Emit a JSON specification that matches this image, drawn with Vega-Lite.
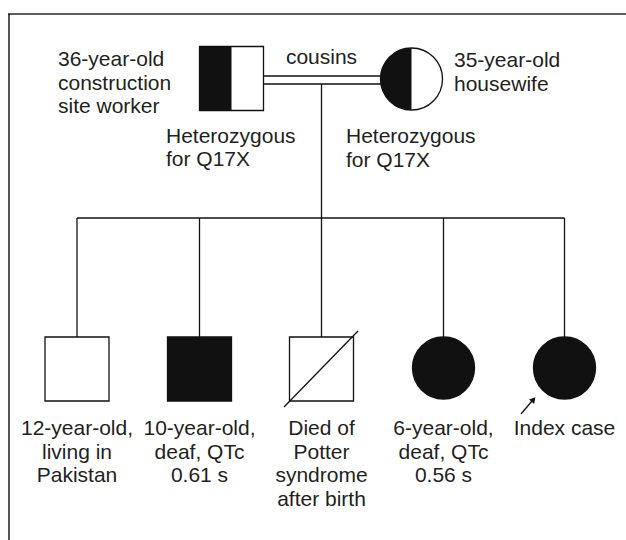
{
  "$schema": "https://vega.github.io/schema/vega-lite/v6.json",
  "width": 626,
  "height": 540,
  "padding": 0,
  "autosize": {"type": "none"},
  "background": "white",
  "config": {"view": {"stroke": null}},
  "datasets": {
    "people": [
      {"id": "father", "x": 231.5, "y": 78.5, "sex": "male", "status": "carrier"},
      {"id": "mother", "x": 411.5, "y": 79, "sex": "female", "status": "carrier"},
      {"id": "child1", "x": 77, "y": 369, "sex": "male", "status": "unaffected"},
      {"id": "child2", "x": 199.5, "y": 369, "sex": "male", "status": "affected"},
      {"id": "child3", "x": 321.5, "y": 369, "sex": "male", "status": "deceased"},
      {"id": "child4", "x": 443.5, "y": 368, "sex": "female", "status": "affected"},
      {"id": "child5", "x": 564.5, "y": 368, "sex": "female", "status": "affected"}
    ],
    "lines": [
      {"part": "marriage", "x": 263, "y": 76, "x2": 395, "y2": 76},
      {"part": "marriage", "x": 263, "y": 84, "x2": 395, "y2": 84},
      {"part": "descent", "x": 321.5, "y": 84, "x2": 321.5, "y2": 218},
      {"part": "sibship", "x": 77, "y": 218, "x2": 564.5, "y2": 218},
      {"part": "child1", "x": 77, "y": 218, "x2": 77, "y2": 337},
      {"part": "child2", "x": 199.5, "y": 218, "x2": 199.5, "y2": 337},
      {"part": "child3", "x": 321.5, "y": 218, "x2": 321.5, "y2": 337},
      {"part": "child4", "x": 443.5, "y": 218, "x2": 443.5, "y2": 337},
      {"part": "child5", "x": 564.5, "y": 218, "x2": 564.5, "y2": 337},
      {"part": "deceased", "x": 284, "y": 407, "x2": 358, "y2": 331},
      {"part": "arrow", "x": 521, "y": 414, "x2": 532, "y2": 401}
    ],
    "frame": [
      {"side": "top", "x": 8, "y": 14, "x2": 626, "y2": 14},
      {"side": "left", "x": 9, "y": 14, "x2": 9, "y2": 540}
    ],
    "arrowhead": [
      {"x": 533.5, "y": 399.5}
    ],
    "labels": [
      {"text": "36-year-old\nconstruction\nsite worker", "x": 58, "y": 66, "anchor": "left"},
      {"text": "35-year-old\nhousewife", "x": 454, "y": 67, "anchor": "left"},
      {"text": "Heterozygous\nfor Q17X", "x": 166, "y": 142.5, "anchor": "left"},
      {"text": "Heterozygous\nfor Q17X", "x": 346, "y": 143, "anchor": "left"},
      {"text": "cousins", "x": 321.5, "y": 64, "anchor": "center"},
      {"text": "12-year-old,\nliving in\nPakistan", "x": 77, "y": 435, "anchor": "center"},
      {"text": "10-year-old,\ndeaf, QTc\n0.61 s", "x": 199.5, "y": 435, "anchor": "center"},
      {"text": "Died of\nPotter\nsyndrome\nafter birth", "x": 321.5, "y": 435, "anchor": "center"},
      {"text": "6-year-old,\ndeaf, QTc\n0.56 s", "x": 443.5, "y": 435, "anchor": "center"},
      {"text": "Index case", "x": 564.5, "y": 435, "anchor": "center"}
    ]
  },
  "layer": [
    {
      "data": {"name": "frame"},
      "transform": [{"filter": "datum.side === 'top'"}],
      "mark": {"type": "rule", "color": "#5c5c5c", "strokeWidth": 2},
      "encoding": {
        "x": {"field": "x", "type": "quantitative", "scale": {"domain": [0, 626], "nice": false, "zero": false}, "axis": null},
        "y": {"field": "y", "type": "quantitative", "scale": {"domain": [0, 540], "nice": false, "zero": false, "reverse": true}, "axis": null},
        "x2": {"field": "x2"},
        "y2": {"field": "y2"}
      }
    },
    {
      "data": {"name": "frame"},
      "transform": [{"filter": "datum.side === 'left'"}],
      "mark": {"type": "rule", "color": "#1a1a1a", "strokeWidth": 1.5},
      "encoding": {
        "x": {"field": "x", "type": "quantitative", "axis": null},
        "y": {"field": "y", "type": "quantitative", "axis": null},
        "x2": {"field": "x2"},
        "y2": {"field": "y2"}
      }
    },
    {
      "data": {"name": "lines"},
      "transform": [{"filter": "datum.part !== 'deceased' && datum.part !== 'arrow'"}],
      "mark": {"type": "rule", "color": "#111111", "strokeWidth": 1.3},
      "encoding": {
        "x": {"field": "x", "type": "quantitative", "axis": null},
        "y": {"field": "y", "type": "quantitative", "axis": null},
        "x2": {"field": "x2"},
        "y2": {"field": "y2"}
      }
    },
    {
      "data": {"name": "people"},
      "transform": [{"filter": "datum.sex === 'male'"}],
      "mark": {"type": "point", "shape": "square", "size": 4096, "stroke": "#111111", "strokeWidth": 1.3, "opacity": 1, "fillOpacity": 1, "strokeOpacity": 1},
      "encoding": {
        "x": {"field": "x", "type": "quantitative", "axis": null},
        "y": {"field": "y", "type": "quantitative", "axis": null},
        "fill": {"field": "status", "type": "nominal", "scale": {"domain": ["unaffected", "affected", "carrier", "deceased"], "range": ["#ffffff", "#111111", "#ffffff", "#ffffff"]}, "legend": null}
      }
    },
    {
      "data": {"name": "people"},
      "transform": [{"filter": "datum.sex === 'female'"}],
      "mark": {"type": "point", "shape": "circle", "size": 3844, "stroke": "#111111", "strokeWidth": 1.3, "opacity": 1, "fillOpacity": 1, "strokeOpacity": 1},
      "encoding": {
        "x": {"field": "x", "type": "quantitative", "axis": null},
        "y": {"field": "y", "type": "quantitative", "axis": null},
        "fill": {"field": "status", "type": "nominal", "legend": null}
      }
    },
    {
      "data": {"name": "people"},
      "transform": [{"filter": "datum.sex === 'male' && datum.status === 'carrier'"}],
      "mark": {"type": "point", "shape": "M-1,-1L0,-1L0,1L-1,1Z", "size": 4096, "fill": "#111111", "strokeWidth": 0, "opacity": 1, "fillOpacity": 1},
      "encoding": {
        "x": {"field": "x", "type": "quantitative", "axis": null},
        "y": {"field": "y", "type": "quantitative", "axis": null}
      }
    },
    {
      "data": {"name": "people"},
      "transform": [{"filter": "datum.sex === 'female' && datum.status === 'carrier'"}],
      "mark": {"type": "point", "shape": "M0,-1A1,1,0,0,0,0,1Z", "size": 3844, "fill": "#111111", "strokeWidth": 0, "opacity": 1, "fillOpacity": 1},
      "encoding": {
        "x": {"field": "x", "type": "quantitative", "axis": null},
        "y": {"field": "y", "type": "quantitative", "axis": null}
      }
    },
    {
      "data": {"name": "lines"},
      "transform": [{"filter": "datum.part === 'deceased' || datum.part === 'arrow'"}],
      "mark": {"type": "rule", "color": "#111111", "strokeWidth": 1.3},
      "encoding": {
        "x": {"field": "x", "type": "quantitative", "axis": null},
        "y": {"field": "y", "type": "quantitative", "axis": null},
        "x2": {"field": "x2"},
        "y2": {"field": "y2"}
      }
    },
    {
      "data": {"name": "arrowhead"},
      "mark": {"type": "point", "shape": "triangle-up", "size": 45, "angle": 41, "fill": "#111111", "strokeWidth": 0, "opacity": 1, "fillOpacity": 1},
      "encoding": {
        "x": {"field": "x", "type": "quantitative", "axis": null},
        "y": {"field": "y", "type": "quantitative", "axis": null}
      }
    },
    {
      "data": {"name": "labels"},
      "transform": [{"filter": "datum.anchor === 'left'"}],
      "mark": {"type": "text", "align": "left", "baseline": "alphabetic", "font": "Liberation Sans", "fontSize": 21, "lineHeight": 23.7, "lineBreak": "\n", "color": "#231f20"},
      "encoding": {
        "x": {"field": "x", "type": "quantitative", "axis": null},
        "y": {"field": "y", "type": "quantitative", "axis": null},
        "text": {"field": "text", "type": "nominal"}
      }
    },
    {
      "data": {"name": "labels"},
      "transform": [{"filter": "datum.anchor === 'center'"}],
      "mark": {"type": "text", "align": "center", "baseline": "alphabetic", "font": "Liberation Sans", "fontSize": 21, "lineHeight": 23.7, "lineBreak": "\n", "color": "#231f20"},
      "encoding": {
        "x": {"field": "x", "type": "quantitative", "axis": null},
        "y": {"field": "y", "type": "quantitative", "axis": null},
        "text": {"field": "text", "type": "nominal"}
      }
    }
  ]
}
